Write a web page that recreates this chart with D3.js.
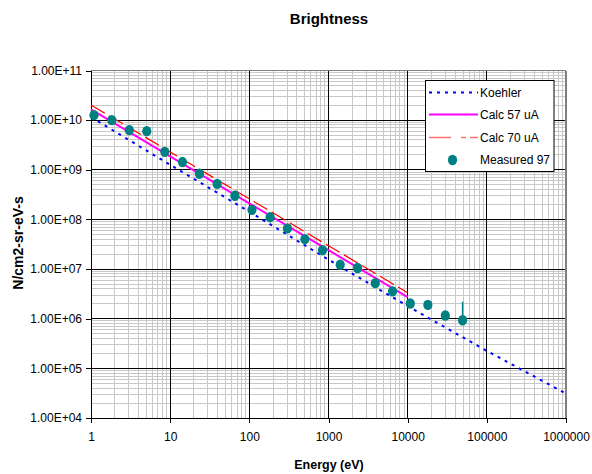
<!DOCTYPE html>
<html>
<head>
<meta charset="utf-8">
<script src="https://cdn.jsdelivr.net/npm/d3@7"></script>
<style>
  html, body { margin: 0; padding: 0; background: #fff; }
  svg { display: block; font-family: "Liberation Sans", Arial, sans-serif; }
</style>
</head>
<body>
<svg id="chart" width="592" height="474"></svg>
<script>
// ---- data ----
const koehlerX = [1, 10, 100, 1000, 10000, 100000, 1000000];
const koehlerY = [1.15e10, 1.26e9, 1.43e8, 1.55e7, 1.79e6, 2.25e5, 3.1e4];

const calc57X = [1, 10, 100, 1000, 10000];
const calc57Y = [1.64e10, 1.86e9, 2.11e8, 2.40e7, 2.72e6];

const calc70X = [1, 10, 100, 1000, 10000];
const calc70Y = [2.02e10, 2.29e9, 2.60e8, 2.95e7, 3.35e6];

const measuredX = [1.09, 1.83, 3.05, 5.06, 8.55, 14.3, 23.4, 39.2, 65.6, 108, 183, 303,
                   503, 840, 1406, 2330, 3900, 6440, 10790, 18000, 29900, 49400];
const measuredY = [1.26e10, 1.0e10, 6.3e9, 6.0e9, 2.3e9, 1.43e9, 8.3e8, 5.2e8, 3.0e8, 1.56e8, 1.11e8, 6.6e7,
                   4.0e7, 2.4e7, 1.22e7, 1.05e7, 5.2e6, 3.55e6, 2.03e6, 1.9e6, 1.16e6, 9.3e5];
const errorBarX = [49400];
const errorBarLow = [9.3e5];
const errorBarHigh = [2.2e6];

const xTicks = [1, 10, 100, 1000, 10000, 100000, 1000000];
const xTickLabels = ["1", "10", "100", "1000", "10000", "100000", "1000000"];
const yTicks = [1e4, 1e5, 1e6, 1e7, 1e8, 1e9, 1e10, 1e11];
const yTickLabels = ["1.00E+04", "1.00E+05", "1.00E+06", "1.00E+07", "1.00E+08", "1.00E+09", "1.00E+10", "1.00E+11"];

const seriesNames = ["Koehler", "Calc 57 uA", "Calc 70 uA", "Measured 97"];
const title = "Brightness";
const xTitle = "Energy (eV)";
const yTitle = "N/cm2-sr-eV-s";

// ---- layout ----
const L = 91, R = 566, T = 70.5, B = 418;
const svg = d3.select("#chart");
const x = d3.scaleLog().domain([1, 1e6]).range([L, R]);
const y = d3.scaleLog().domain([1e4, 1e11]).range([B, T]);

// minor grid
const minorX = [], minorY = [];
for (let d = 0; d < 6; d++) for (let k = 2; k <= 9; k++) minorX.push(k * Math.pow(10, d));
for (let d = 4; d < 11; d++) for (let k = 2; k <= 9; k++) minorY.push(k * Math.pow(10, d));

const grid = svg.append("g").attr("shape-rendering", "crispEdges");
grid.selectAll(".mx").data(minorX).join("line")
  .attr("x1", d => x(d)).attr("x2", d => x(d)).attr("y1", T).attr("y2", B)
  .attr("stroke", "#c8c8c8").attr("stroke-width", 1);
grid.selectAll(".my").data(minorY).join("line")
  .attr("x1", L).attr("x2", R).attr("y1", d => y(d)).attr("y2", d => y(d))
  .attr("stroke", "#c8c8c8").attr("stroke-width", 1);
// major grid
grid.selectAll(".Mx").data(xTicks.slice(1, -1)).join("line")
  .attr("x1", d => x(d)).attr("x2", d => x(d)).attr("y1", T).attr("y2", B)
  .attr("stroke", "#000").attr("stroke-width", 1);
grid.selectAll(".My").data(yTicks.slice(1, -1)).join("line")
  .attr("x1", L).attr("x2", R).attr("y1", d => y(d)).attr("y2", d => y(d))
  .attr("stroke", "#000").attr("stroke-width", 1);
// plot border top/right (grey)
grid.append("line").attr("x1", L).attr("x2", R).attr("y1", T).attr("y2", T).attr("stroke", "#808080").attr("stroke-width", 1.5);
grid.append("line").attr("x1", R).attr("x2", R).attr("y1", T).attr("y2", B).attr("stroke", "#808080").attr("stroke-width", 1.5);

// axes
const xAxis = d3.axisBottom(x).tickValues(xTicks).tickFormat((d, i) => xTickLabels[i]).tickSize(5).tickPadding(9);
const yAxis = d3.axisLeft(y).tickValues(yTicks).tickFormat((d, i) => yTickLabels[i]).tickSize(5).tickPadding(4);
const gx = svg.append("g").attr("transform", `translate(0,${B})`).call(xAxis);
const gy = svg.append("g").attr("transform", `translate(${L},0)`).call(yAxis);
[gx, gy].forEach(g => {
  g.select(".domain").attr("stroke", "#000").attr("shape-rendering", "crispEdges");
  g.selectAll(".tick line").attr("stroke", "#000").attr("shape-rendering", "crispEdges");
  g.selectAll("text").attr("font-size", 12).attr("fill", "#000")
    .attr("font-family", "'Liberation Sans', Arial, sans-serif");
});

// series
const line = d3.line().x(d => x(d[0])).y(d => y(d[1]));
const zip = (a, b) => a.map((v, i) => [v, b[i]]);

svg.append("path").datum(zip(calc70X, calc70Y)).attr("d", line)
  .attr("fill", "none").attr("stroke", "#ff0000").attr("stroke-width", 1.2).attr("stroke-dasharray", "16,5");
svg.append("path").datum(zip(calc57X, calc57Y)).attr("d", line)
  .attr("fill", "none").attr("stroke", "#ff00ff").attr("stroke-width", 2);
svg.append("path").datum(zip(koehlerX, koehlerY)).attr("d", line)
  .attr("fill", "none").attr("stroke", "#0000ff").attr("stroke-width", 2).attr("stroke-dasharray", "3,5");

// error bars
svg.selectAll(".err").data(errorBarX.map((v, i) => [v, errorBarLow[i], errorBarHigh[i]])).join("line")
  .attr("x1", d => x(d[0])).attr("x2", d => x(d[0]))
  .attr("y1", d => y(d[1])).attr("y2", d => y(d[2]))
  .attr("stroke", "#008080").attr("stroke-width", 1.5);

svg.selectAll(".pt").data(zip(measuredX, measuredY)).join("ellipse")
  .attr("cx", d => x(d[0])).attr("cy", d => y(d[1]))
  .attr("rx", 4.6).attr("ry", 5.2).attr("fill", "#008080");

// legend
const lg = svg.append("g");
lg.append("rect").attr("x", 425.5).attr("y", 80.5).attr("width", 128.5).attr("height", 91)
  .attr("fill", "#fff").attr("stroke", "#000").attr("stroke-width", 1);
const legY = [92.5, 114.5, 137.5, 160];
const lx1 = 429, lx2 = 478;
lg.append("line").attr("x1", lx1).attr("x2", lx2).attr("y1", legY[0]).attr("y2", legY[0])
  .attr("stroke", "#0000ff").attr("stroke-width", 2).attr("stroke-dasharray", "3,5");
lg.append("line").attr("x1", lx1).attr("x2", lx2).attr("y1", legY[1]).attr("y2", legY[1])
  .attr("stroke", "#ff00ff").attr("stroke-width", 2);
lg.append("line").attr("x1", lx1).attr("x2", lx2).attr("y1", legY[2]).attr("y2", legY[2])
  .attr("stroke", "#ff7070").attr("stroke-width", 1.5).attr("stroke-dasharray", "22,10,5,4");
lg.append("ellipse").attr("cx", 452.5).attr("cy", legY[3]).attr("rx", 4.6).attr("ry", 5.2).attr("fill", "#008080");
lg.selectAll("text").data(seriesNames).join("text")
  .attr("x", 480).attr("y", (d, i) => legY[i]).attr("dy", "0.35em")
  .attr("font-size", 12).attr("fill", "#000").text(d => d);

// titles
svg.append("text").attr("x", 329).attr("y", 24).attr("text-anchor", "middle")
  .attr("font-size", 15).attr("font-weight", "bold").text(title);
svg.append("text").attr("x", 329).attr("y", 469).attr("text-anchor", "middle")
  .attr("font-size", 12.5).attr("font-weight", "bold").text(xTitle);
svg.append("text").attr("transform", "translate(23,243) rotate(-90)").attr("text-anchor", "middle")
  .attr("font-size", 14).attr("font-weight", "bold").text(yTitle);
</script>
</body>
</html>
